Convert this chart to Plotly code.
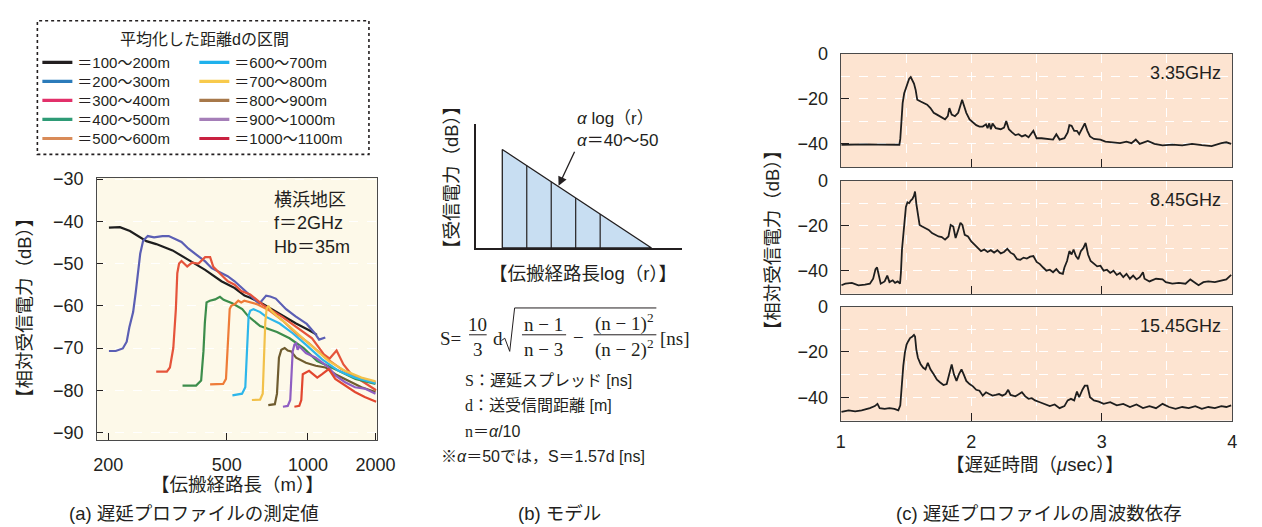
import math
import plotly.graph_objects as go

W, H = 1262, 527
def PX(x): return x / W
def PY(y): return 1 - y / H

INK = "#231F20"
SANS = "Liberation Sans, Arial, Noto Sans CJK JP, sans-serif"
SERIF = "Liberation Serif, Times New Roman, Noto Sans CJK JP, serif"

# ---------------- panel (a): measured delay profiles ----------------
interval_names = ["＝100〜200m", "＝200〜300m", "＝300〜400m", "＝400〜500m", "＝500〜600m",
                  "＝600〜700m", "＝700〜800m", "＝800〜900m", "＝900〜1000m", "＝1000〜1100m"]
legend_colors = ["#231F20", "#2B7BBA", "#E2306A", "#2E9B76", "#D98B58",
                 "#1FB1EC", "#F8CA4C", "#A7784A", "#A57EB8", "#C92140"]
curve_colors = ["#1E1E1E", "#5B5FB4", "#E5543B", "#3C8D4B", "#EE7C38",
                "#2DB6EA", "#F2C14A", "#6F5C2F", "#8F5EC2", "#E2472F"]

d100_x = [183, 201, 219, 252, 274, 315, 362, 416, 478, 535, 582, 611, 681, 786, 904, 1010, 1080]
d100_y = [-41.5, -41.4, -42.3, -44.7, -45.4, -46.9, -49.2, -51.5, -54.2, -55.8, -57.6, -58.1, -59.6, -62.0, -64.2, -65.8, -66.9]

d200_x = [183, 194, 206, 213, 218, 225, 230, 235, 239, 245, 255, 269, 289, 305, 324, 340, 361, 392, 416, 440,
          476, 504, 535, 570, 610, 660, 700, 725, 760, 830, 900, 990, 1060, 1100, 1160]
d200_y = [-70.7, -70.7, -70.1, -68.5, -65.0, -61.5, -56.9, -51.5, -47.7, -44.6, -43.5, -43.8, -43.5, -43.5, -44.2, -44.9, -46.5, -48.2, -49.5, -51.1,
          -52.3, -53.0, -54.2, -55.8, -57.3, -59.5, -57.6, -57.8, -58.3, -60.8, -62.5, -64.3, -66.5, -68.0, -67.5]

d300_x = [274, 300, 308, 317, 324, 328, 333, 340, 357, 372, 393, 416, 434, 446, 478, 505, 535, 566, 611, 681,
          806, 906, 1036, 1146, 1204, 1277, 1354, 1448, 1575, 1790]
d300_y = [-75.6, -75.6, -74.6, -70.0, -60.8, -52.3, -50.0, -49.4, -50.7, -49.8, -50.0, -48.5, -48.5, -50.8, -52.7, -54.2, -55.0, -56.5, -57.3, -59.8,
          -62.7, -65.0, -67.7, -71.5, -72.5, -70.6, -73.9, -76.2, -77.7, -80.0]

d400_x = [343, 385, 402, 410, 415, 421, 433, 453, 472, 487, 524, 571, 601, 665, 768, 855, 964, 1082, 1299, 1500, 1780]
d400_y = [-78.9, -78.9, -77.7, -70.8, -64.0, -59.2, -58.8, -58.5, -57.9, -58.6, -59.4, -60.8, -62.5, -64.8, -66.2, -67.7, -70.0, -73.1, -75.4, -77.3, -78.5]

d500_x = [434, 485, 497, 505, 513, 520, 536, 552, 566, 581, 646, 723, 806, 902, 1010, 1161, 1331, 1530, 1780]
d500_y = [-78.6, -78.5, -77.3, -68.5, -60.8, -60.0, -59.6, -58.8, -59.2, -58.8, -59.6, -61.2, -63.5, -66.5, -68.9, -72.3, -75.0, -77.0, -78.1]

d600_x = [525, 570, 586, 597, 603, 611, 628, 665, 703, 786, 878, 983, 1129, 1299, 1494, 1780]
d600_y = [-81.2, -80.8, -79.3, -69.2, -62.3, -61.2, -60.8, -61.5, -62.7, -64.2, -66.5, -69.2, -72.7, -75.4, -77.0, -78.3]

d700_x = [620, 665, 680, 688, 695, 703, 713, 733, 764, 831, 929, 1039, 1194, 1374, 1579, 1780]
d700_y = [-82.3, -82.2, -80.8, -73.1, -63.9, -60.8, -60.0, -61.2, -62.3, -64.2, -66.9, -69.6, -73.1, -75.4, -77.0, -77.9]

d800_x = [713, 754, 768, 781, 797, 820, 842, 867, 904, 983, 1069, 1161, 1263, 1413, 1579, 1780]
d800_y = [-83.5, -83.3, -80.8, -72.3, -70.4, -70.0, -70.6, -70.8, -72.3, -73.5, -74.2, -74.6, -76.2, -77.7, -79.3, -80.4]

d900_x = [808, 842, 860, 869, 878, 891, 904, 916, 929, 983, 1069, 1194, 1263, 1374, 1494, 1624, 1780]
d900_y = [-83.9, -83.7, -82.3, -75.4, -70.8, -69.2, -68.9, -70.4, -69.6, -71.2, -72.3, -74.6, -76.5, -78.1, -79.3, -79.6, -80.8]

d1000_x = [891, 929, 945, 957, 1010, 1083, 1129, 1194, 1263, 1374, 1494, 1624, 1790]
d1000_y = [-83.9, -83.7, -82.3, -76.2, -75.4, -77.0, -76.2, -75.0, -77.3, -78.9, -80.4, -81.6, -82.7]

path_x = [d100_x, d200_x, d300_x, d400_x, d500_x, d600_x, d700_x, d800_x, d900_x, d1000_x]
path_db = [d100_y, d200_y, d300_y, d400_y, d500_y, d600_y, d700_y, d800_y, d900_y, d1000_y]

a_tick_vals = [182, 500, 1000, 1780]
a_tick_text = ["200", "500", "1000", "2000"]

# ---------------- panel (b): model ----------------
model_logr = [1, 2, 3, 4, 5]          # boundaries of averaging sections
model_level = [6.1, 5.1, 4.1, 3.1, 2.1]
model_end_logr = 7.1

# ---------------- panel (c): delay profiles vs frequency ----------------
f335_t = [1.005, 1.060, 1.135, 1.200, 1.286, 1.350, 1.436, 1.449, 1.456, 1.464,
          1.474, 1.486, 1.499, 1.511, 1.524, 1.536, 1.549, 1.561, 1.574, 1.586,
          1.612, 1.637, 1.662, 1.687, 1.712, 1.737, 1.762, 1.787, 1.799, 1.820,
          1.832, 1.850, 1.875, 1.900, 1.917, 1.930, 1.942, 1.962, 1.987, 2.013,
          2.038, 2.063, 2.088, 2.113, 2.125, 2.138, 2.150, 2.163, 2.188, 2.226,
          2.251, 2.268, 2.288, 2.313, 2.338, 2.363, 2.388, 2.414, 2.439, 2.476,
          2.501, 2.539, 2.589, 2.627, 2.652, 2.677, 2.714, 2.739, 2.752, 2.769,
          2.789, 2.810, 2.827, 2.852, 2.870, 2.890, 2.910, 2.940, 2.990, 3.028,
          3.090, 3.140, 3.190, 3.228, 3.261, 3.291, 3.353, 3.404, 3.466, 3.541,
          3.617, 3.692, 3.767, 3.842, 3.917, 3.955, 3.992]
f335_db = [-40.4, -40.3, -40.4, -40.2, -40.3, -40.4, -40.4, -40.4, -37.8, -27.7,
           -21.9, -17.5, -15.4, -14.0, -11.0, -10.3, -11.7, -13.2, -16.1, -20.4,
           -21.2, -21.9, -22.6, -24.1, -26.2, -27.0, -27.7, -28.4, -29.1, -27.7,
           -24.1, -27.0, -27.7, -26.2, -23.3, -20.4, -22.6, -26.2, -29.1, -30.6,
           -31.7, -32.3, -32.3, -31.3, -33.0, -30.9, -33.5, -30.9, -33.0, -33.5,
           -32.8, -29.9, -33.5, -34.9, -36.1, -35.7, -36.7, -36.1, -37.1, -34.2,
           -37.5, -37.5, -37.8, -38.1, -35.7, -38.1, -37.5, -34.9, -31.7, -32.0,
           -34.2, -34.2, -35.7, -32.8, -30.9, -34.2, -36.7, -37.8, -38.1, -39.0,
           -39.3, -39.7, -39.0, -39.7, -38.1, -40.0, -38.7, -40.0, -40.7, -40.3,
           -40.7, -40.0, -40.6, -41.0, -39.7, -39.3, -40.0]

f845_t = [1.005, 1.035, 1.085, 1.135, 1.185, 1.223, 1.248, 1.266, 1.278, 1.291,
          1.306, 1.336, 1.356, 1.373, 1.398, 1.416, 1.436, 1.454, 1.461, 1.469,
          1.479, 1.486, 1.499, 1.511, 1.524, 1.536, 1.549, 1.561, 1.569, 1.579,
          1.591, 1.604, 1.624, 1.649, 1.674, 1.699, 1.724, 1.749, 1.774, 1.799,
          1.825, 1.842, 1.862, 1.880, 1.900, 1.917, 1.932, 1.950, 1.975, 2.000,
          2.025, 2.050, 2.075, 2.100, 2.125, 2.150, 2.175, 2.200, 2.226, 2.251,
          2.276, 2.301, 2.326, 2.351, 2.376, 2.401, 2.426, 2.451, 2.476, 2.501,
          2.526, 2.551, 2.576, 2.602, 2.627, 2.652, 2.677, 2.702, 2.714, 2.734,
          2.752, 2.769, 2.784, 2.802, 2.820, 2.840, 2.860, 2.877, 2.895, 2.915,
          2.940, 2.965, 2.990, 3.015, 3.040, 3.065, 3.090, 3.115, 3.140, 3.165,
          3.190, 3.216, 3.241, 3.266, 3.291, 3.316, 3.328, 3.366, 3.416, 3.466,
          3.491, 3.541, 3.591, 3.642, 3.679, 3.717, 3.742, 3.779, 3.817, 3.867,
          3.917, 3.955, 3.992]
f845_db = [-46.5, -45.8, -45.4, -46.5, -46.2, -45.8, -43.6, -39.3, -38.6, -42.2,
           -45.8, -44.8, -42.2, -45.1, -44.3, -45.4, -44.8, -45.8, -40.7, -30.6,
           -24.1, -17.5, -11.7, -9.6, -10.0, -8.8, -8.1, -6.7, -4.8, -10.3,
           -16.1, -19.7, -20.4, -21.2, -21.9, -23.3, -24.1, -24.8, -25.1, -26.2,
           -24.8, -19.7, -20.4, -25.5, -21.9, -18.7, -19.7, -24.1, -24.8, -27.0,
           -28.4, -29.9, -31.3, -30.6, -31.7, -30.9, -32.0, -30.9, -32.3, -31.7,
           -30.3, -32.0, -32.8, -34.9, -35.2, -34.2, -34.6, -33.8, -33.5, -36.1,
           -37.1, -38.6, -40.0, -39.6, -40.7, -39.3, -41.0, -41.4, -38.6, -35.7,
           -31.3, -32.8, -30.6, -33.5, -34.9, -31.3, -29.9, -27.7, -32.8, -35.7,
           -37.1, -38.1, -37.8, -40.0, -39.6, -41.0, -40.0, -41.9, -41.0, -42.9,
           -41.4, -43.6, -42.2, -43.9, -42.9, -40.7, -43.6, -44.8, -43.6, -43.9,
           -45.1, -45.8, -45.4, -45.8, -43.9, -45.4, -46.5, -45.1, -44.8, -45.1,
           -44.3, -43.9, -41.9]

f1545_t = [1.005, 1.060, 1.110, 1.160, 1.223, 1.261, 1.281, 1.298, 1.336, 1.373,
           1.411, 1.441, 1.456, 1.466, 1.479, 1.491, 1.504, 1.516, 1.531, 1.549,
           1.561, 1.569, 1.579, 1.591, 1.612, 1.632, 1.649, 1.667, 1.687, 1.712,
           1.737, 1.762, 1.787, 1.812, 1.832, 1.850, 1.867, 1.887, 1.905, 1.925,
           1.942, 1.962, 1.987, 2.013, 2.038, 2.063, 2.088, 2.113, 2.138, 2.163,
           2.188, 2.213, 2.238, 2.263, 2.283, 2.301, 2.338, 2.363, 2.388, 2.414,
           2.439, 2.464, 2.489, 2.526, 2.564, 2.602, 2.639, 2.677, 2.714, 2.739,
           2.764, 2.789, 2.810, 2.827, 2.852, 2.870, 2.890, 2.910, 2.940, 2.977,
           3.015, 3.065, 3.115, 3.165, 3.216, 3.266, 3.316, 3.366, 3.416, 3.466,
           3.516, 3.566, 3.617, 3.667, 3.717, 3.767, 3.817, 3.867, 3.917, 3.955,
           3.992]
f1545_db = [-46.5, -45.8, -46.2, -45.8, -44.8, -43.9, -42.9, -44.8, -45.1, -44.8,
            -45.1, -45.8, -43.6, -34.9, -26.2, -20.4, -16.8, -15.4, -13.9, -13.2,
            -12.5, -13.2, -19.0, -22.6, -25.5, -27.0, -27.7, -24.8, -27.7, -29.9,
            -32.3, -33.5, -34.6, -34.2, -29.1, -25.5, -29.9, -32.8, -29.9, -27.7,
            -29.9, -32.8, -34.2, -35.2, -36.7, -37.1, -39.3, -37.8, -38.6, -39.3,
            -39.0, -38.6, -39.3, -38.6, -36.7, -39.0, -39.6, -38.6, -37.8, -39.6,
            -40.7, -40.4, -41.4, -42.2, -42.9, -43.9, -43.2, -44.8, -43.9, -41.4,
            -40.7, -41.4, -37.5, -40.0, -36.7, -34.9, -34.9, -40.0, -41.4, -41.9,
            -42.9, -42.2, -43.6, -42.9, -44.3, -43.2, -44.8, -43.9, -44.8, -42.9,
            -44.3, -45.1, -44.3, -44.8, -43.9, -45.1, -44.3, -44.8, -43.9, -44.3,
            -43.6]

freq_labels = ["3.35GHz", "8.45GHz", "15.45GHz"]
freq_t = [f335_t, f845_t, f1545_t]
freq_db = [f335_db, f845_db, f1545_db]

# =====================================================================
fig = go.Figure()

legend_ids = ["legend"] + [f"legend{i}" for i in range(2, 11)]

# panel (a) curves
for name, xs, ys, col in zip(interval_names, path_x, path_db, curve_colors):
    fig.add_trace(go.Scatter(x=xs, y=ys, mode="lines", name=name, showlegend=False,
                             line=dict(color=col, width=2.2), xaxis="x", yaxis="y"))
# legend entries (legend swatch colours as printed in the key)
for i, (name, lcol) in enumerate(zip(interval_names, legend_colors)):
    fig.add_trace(go.Scatter(x=[None], y=[None], mode="lines", name=name,
                             line=dict(color=lcol, width=3.2), xaxis="x", yaxis="y",
                             legend=legend_ids[i]))

# panel (b) model wedge
fig.add_trace(go.Scatter(
    x=[model_logr[0], model_logr[0], model_end_logr, model_logr[0]],
    y=[0, model_level[0], 0, 0], mode="lines", fill="toself",
    fillcolor="#C8DEF2", line=dict(color=INK, width=1.3),
    showlegend=False, xaxis="x2", yaxis="y2", hoverinfo="skip"))
div_x, div_y = [], []
for lr, lv in zip(model_logr[1:], model_level[1:]):
    div_x += [lr, lr, None]
    div_y += [0, lv, None]
fig.add_trace(go.Scatter(x=div_x, y=div_y, mode="lines", line=dict(color=INK, width=1.2),
                         showlegend=False, xaxis="x2", yaxis="y2", hoverinfo="skip"))

# panel (c) profiles
for k, (ts, ds) in enumerate(zip(freq_t, freq_db)):
    fig.add_trace(go.Scatter(x=ts, y=ds, mode="lines", name=freq_labels[k], showlegend=False,
                             line=dict(color="#1E1E1E", width=1.8),
                             xaxis=f"x{k+3}", yaxis=f"y{k+3}"))

# ---------------- axes ----------------
border = "#4A4A4A"
TICK = 18
lay = dict(
    width=W, height=H, margin=dict(l=0, r=0, t=0, b=0),
    paper_bgcolor="white", plot_bgcolor="rgba(0,0,0,0)",
    font=dict(family=SANS, color=INK, size=15),
    showlegend=True,
)
lay["xaxis"] = dict(domain=[PX(94), PX(379)], type="log",
                    range=[math.log10(165.6), math.log10(1800)],
                    tickmode="array", tickvals=a_tick_vals, ticktext=a_tick_text,
                    ticks="inside", ticklen=7, tickcolor=INK, tickfont=dict(size=TICK),
                    ticklabelstandoff=8,
                    showline=True, mirror=True, linecolor=border, linewidth=1.2,
                    showgrid=False, zeroline=False, anchor="y", fixedrange=True)
lay["yaxis"] = dict(domain=[PY(441), PY(172)], range=[-91.8, -29.7],
                    tickmode="linear", tick0=0, dtick=10,
                    ticks="inside", ticklen=6, tickcolor=INK, tickfont=dict(size=TICK),
                    ticklabelstandoff=9,
                    showline=True, mirror=True, linecolor=border, linewidth=1.2,
                    showgrid=True, gridcolor="rgba(255,255,255,0.95)", griddash="dash", gridwidth=1,
                    zeroline=False, anchor="x", fixedrange=True)
lay["xaxis2"] = dict(domain=[PX(480), PX(690)], range=[-0.08, 8.34], anchor="y2",
                     showline=True, linecolor=INK, linewidth=1.5, ticks="", showticklabels=False,
                     showgrid=False, zeroline=False, fixedrange=True)
lay["yaxis2"] = dict(domain=[PY(244), PY(117)], range=[0, 7.67], anchor="x2",
                     showline=True, linecolor=INK, linewidth=1.5, ticks="", showticklabels=False,
                     showgrid=False, zeroline=False, fixedrange=True)

c_rows = [(45, 161), (175, 291), (304, 421)]
for k, (top, bot) in enumerate(c_rows):
    n = k + 3
    lay[f"xaxis{n}"] = dict(domain=[PX(852), PX(1251)], range=[1, 4], anchor=f"y{n}",
                            tickmode="linear", tick0=1, dtick=1,
                            ticks="inside", ticklen=8, tickcolor=INK,
                            showticklabels=(k == 2), tickfont=dict(size=TICK), ticklabelstandoff=5,
                            showline=True, mirror=True, linecolor=border, linewidth=1.2,
                            showgrid=True, gridcolor="white", griddash="dash", gridwidth=1,
                            minor=dict(dtick=0.5, tick0=1, showgrid=True, gridcolor="white",
                                       griddash="dash", gridwidth=1, ticks=""),
                            zeroline=False, fixedrange=True)
    lay[f"yaxis{n}"] = dict(domain=[PY(bot), PY(top)], range=[-50.3, 0], anchor=f"x{n}",
                            tickmode="linear", tick0=0, dtick=20,
                            ticks="inside", ticklen=8, tickcolor=INK,
                            tickfont=dict(size=TICK), ticklabelstandoff=8,
                            showline=True, mirror=True, linecolor=border, linewidth=1.2,
                            showgrid=True, gridcolor="white", griddash="dash", gridwidth=1,
                            minor=dict(dtick=10, tick0=0, showgrid=True, gridcolor="white",
                                       griddash="dash", gridwidth=1, ticks=""),
                            zeroline=False, fixedrange=True)

# one single-entry legend per key row, two columns
row_y = [54, 73.5, 93, 112.5, 132]
for i, lid in enumerate(legend_ids):
    col_x = 33 if i < 5 else 193
    lay[lid] = dict(x=PX(col_x), y=PY(row_y[i % 5]), xanchor="left", yanchor="middle",
                    bgcolor="rgba(0,0,0,0)", borderwidth=0, tracegroupgap=0,
                    font=dict(size=15, family=SANS, color=INK), itemwidth=30)
fig.update_layout(**lay)

# ---------------- shapes ----------------
shapes = []
shapes.append(dict(type="rect", xref="x domain", yref="y domain", x0=0, x1=1, y0=0, y1=1,
                   fillcolor="#FDF9E9", line=dict(width=0), layer="below"))
for n in (3, 4, 5):
    shapes.append(dict(type="rect", xref=f"x{n} domain", yref=f"y{n} domain", x0=0, x1=1, y0=0, y1=1,
                       fillcolor="#FDE4D1", line=dict(width=0), layer="below"))
shapes.append(dict(type="rect", xref="paper", yref="paper", x0=PX(33), x1=PX(371),
                   y0=PY(148), y1=PY(11), line=dict(color=INK, width=1.6, dash="dot")))
for x0, x1 in [(473, 491), (527, 572), (600, 664)]:
    shapes.append(dict(type="line", xref="paper", yref="paper", x0=PX(x0), x1=PX(x1),
                       y0=PY(333), y1=PY(333), line=dict(color=INK, width=1)))
rad = [(506, 339), (509.5, 336.5), (514.5, 350), (519.5, 305.5), (664, 305.5)]
path = "M " + " L ".join(f"{PX(a):.5f},{PY(b):.5f}" for a, b in rad)
shapes.append(dict(type="path", xref="paper", yref="paper", path=path,
                   line=dict(color=INK, width=1)))
fig.update_layout(shapes=shapes)

# ---------------- annotations ----------------
anns = []
def ann(text, x, y, size=17, xanchor="center", yanchor="middle", angle=0, family=SANS, align="center"):
    anns.append(dict(text=text, x=PX(x), y=PY(y), xref="paper", yref="paper",
                     xanchor=xanchor, yanchor=yanchor, textangle=angle, align=align,
                     showarrow=False, font=dict(size=size, family=family, color=INK)))

TT = 18.5   # axis-title size
CAP = 18.5  # caption size

# panel (a)
ann("平均化した距離dの区間", 203, 30, size=16)
ann("【相対受信電力（dB）】", 20, 306, size=TT, angle=-90)
ann("【伝搬経路長（m）】", 237, 486, size=TT)
ann("横浜地区<br>f＝2GHz<br>Hb＝35m", 272, 183, size=18, xanchor="left", yanchor="top", align="left")
ann("(a) 遅延プロファイルの測定値", 193, 516, size=CAP)

# panel (b)
ann("【受信電力（dB）】", 455, 172, size=TT, angle=-90)
ann("【伝搬経路長log（r）】", 589, 270, size=TT)
# label with arrow pointing to the slope
anns.append(dict(text="<i>α</i> log（r）<br><i>α</i>＝40〜50", x=3.3, y=3.85, xref="x2", yref="y2",
                 ax=16, ay=-34, xanchor="left", yanchor="bottom", align="left",
                 showarrow=True, arrowhead=2, arrowsize=1.4, arrowwidth=1.3, arrowcolor=INK,
                 font=dict(size=17, family=SANS, color=INK)))
# formula pieces (serif)
ann("S=", 441, 337, size=19, xanchor="left", family=SERIF)
ann("10", 482, 322, size=19, family=SERIF)
ann("3", 482, 348, size=19, family=SERIF)
ann("d", 503, 337, size=19, family=SERIF)
ann("n − 1", 549, 322, size=19, family=SERIF)
ann("n − 3", 549, 348, size=19, family=SERIF)
ann("−", 585, 336, size=19, family=SERIF)
ann("(n − 1)<sup>2</sup>", 632, 320, size=19, family=SERIF)
ann("(n − 2)<sup>2</sup>", 632, 347, size=19, family=SERIF)
ann("[ns]", 666, 337, size=19, xanchor="left", family=SERIF)
sp = '<span style="font-family:Liberation Serif">{}</span>'
ann(sp.format("S") + "：遅延スプレッド [ns]", 467, 380, size=16, xanchor="left")
ann(sp.format("d") + "：送受信間距離 [m]", 467, 406, size=16, xanchor="left")
ann(sp.format("n") + "＝<i>α</i>/10", 467, 432, size=16, xanchor="left")
ann("※<i>α</i>＝50では，S＝1.57d [ns]", 442, 458, size=16, xanchor="left")
ann("(b) モデル", 565, 516, size=CAP)

# panel (c)
ann("【相対受信電力（dB）】", 782, 236, size=TT, angle=-90)
ann("【遅延時間（<i>μ</i>sec）】", 1050, 466, size=TT)
for lab, (top, bot) in zip(freq_labels, c_rows):
    ann(lab, 1242, top + 20, size=18, xanchor="right")
ann("(c) 遅延プロファイルの周波数依存", 1054, 516, size=CAP)

fig.update_layout(annotations=anns)
fig.write_html("out.html")
